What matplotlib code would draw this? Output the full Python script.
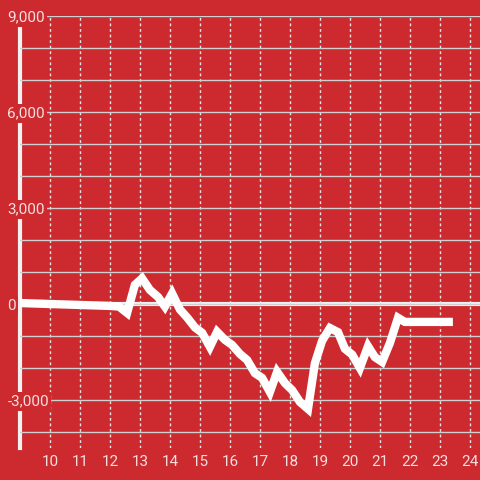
import matplotlib
matplotlib.use("Agg")
import matplotlib.pyplot as plt
from matplotlib.ticker import MultipleLocator

plt.rcParams['font.family'] = ['Roboto', 'DejaVu Sans']

BG = '#cc2a2e'
TXT = '#f6dede'

# values
x = [9.0, 10.0, 11.0, 12.0, 12.3, 12.57, 12.83, 13.07, 13.33, 13.6, 13.83,
     14.07, 14.33, 14.57, 14.83, 15.07, 15.33, 15.57, 15.83, 16.07, 16.33,
     16.57, 16.83, 17.07, 17.33, 17.57, 17.83, 18.07, 18.33, 18.6, 18.83,
     19.07, 19.33, 19.6, 19.83, 20.07, 20.33, 20.6, 20.83, 21.07, 21.33,
     21.6, 21.83, 23.43]
y = [30, 0, -30, -60, -80, -280, 600, 800, 440, 220, -80,
     330, -170, -420, -730, -900, -1340, -870, -1120, -1280, -1560,
     -1750, -2160, -2310, -2750, -2120, -2470, -2690, -3060, -3280, -1850,
     -1150, -750, -880, -1400, -1580, -2000, -1320, -1660, -1810, -1220,
     -430, -560, -560]

xticks = list(range(10, 25))
yticks = [-3000, 0, 3000, 6000, 9000]
ylabels = ['-3,000', '0', '3,000', '6,000', '9,000']

fig = plt.figure(figsize=(4.8, 4.8), dpi=100, facecolor=BG)
ax = fig.add_axes([20/480, 32/480, 460/480, 432/480])
ax.set_facecolor(BG)

ax.plot(x, y, color='white', lw=6, solid_joinstyle='miter',
        solid_capstyle='butt', zorder=3)

ax.axhline(0, color='#f2f2f2', lw=3, zorder=1.2)
ax.axvline(9, color='#f2f2f2', lw=3, zorder=1, clip_on=False)

ax.set_xlim(9, 9 + 460/30)
ax.set_ylim(-4500, 9000)

ax.set_xticks(xticks)
ax.set_yticks(yticks)
ax.set_yticklabels(ylabels)
ax.yaxis.set_minor_locator(MultipleLocator(1000))

ax.grid(axis='y', which='both', color='#cfcfcf', lw=1, ls='-')
ax.grid(axis='x', which='major', color='#e6e6e6', lw=1, ls=(0, (2, 2)))

for s in ax.spines.values():
    s.set_visible(False)

ax.tick_params(axis='both', which='both', length=0, colors=TXT, labelsize=11)
ax.tick_params(axis='x', pad=5)
ax.tick_params(axis='y', pad=9)
for lab in ax.get_yticklabels():
    lab.set_horizontalalignment('left')
    lab.set_bbox(dict(facecolor=BG, edgecolor='none', pad=1.5))

fig.savefig('out.png', dpi=100, facecolor=BG)
